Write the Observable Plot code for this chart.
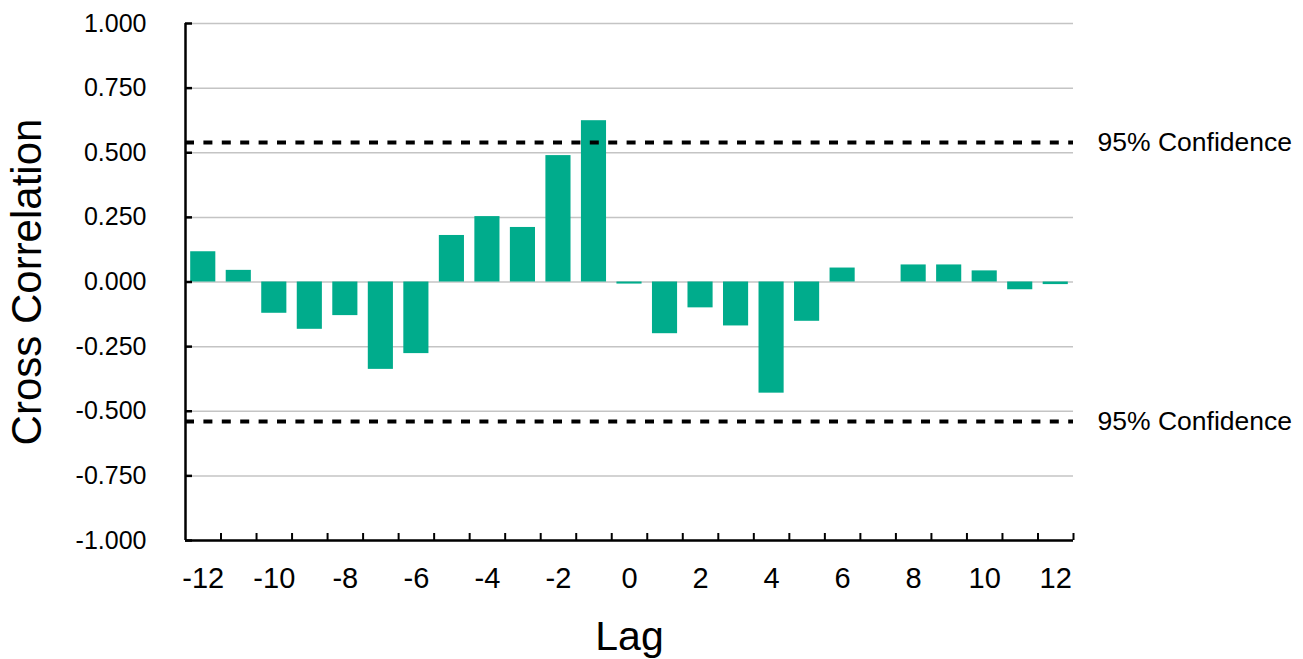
<!DOCTYPE html>
<html><head><meta charset="utf-8">
<script src="https://cdn.jsdelivr.net/npm/d3@7"></script>
<script src="https://cdn.jsdelivr.net/npm/@observablehq/plot@0.6"></script>
<style>body{margin:0;background:#fff;font-family:"Liberation Sans",Arial,Helvetica,sans-serif;}</style>
</head><body><div id="chart"></div>
<script>
const lags = [-12,-11,-10,-9,-8,-7,-6,-5,-4,-3,-2,-1,0,1,2,3,4,5,6,7,8,9,10,11,12];
const correlations = [0.117,0.045,-0.121,-0.183,-0.130,-0.338,-0.277,0.180,0.253,0.211,0.489,0.624,-0.008,-0.200,-0.100,-0.170,-0.430,-0.152,0.054,0,0.066,0.066,0.043,-0.030,-0.010];
const yTicks = [-1,-0.75,-0.5,-0.25,0,0.25,0.5,0.75,1];
const xTickLabels = [-12,-10,-8,-6,-4,-2,0,2,4,6,8,10,12];
const xTickMarks = [-11.5,-10.5,-9.5,-8.5,-7.5,-6.5,-5.5,-4.5,-3.5,-2.5,-1.5,-0.5,0.5,1.5,2.5,3.5,4.5,5.5,6.5,7.5,8.5,9.5,10.5,11.5,12.5];
const confidenceLevels = [0.54,-0.54];
const confidenceLabels = ["95% Confidence","95% Confidence"];
const xLabel = "Lag";
const yLabel = "Cross Correlation";

const data = lags.map((lag,i)=>({lag, value: correlations[i]}));
const conf = confidenceLevels.map((v,i)=>({v, label: confidenceLabels[i]}));

const chart = Plot.plot({
  width: 1303,
  height: 659,
  marginLeft: 185,
  marginRight: 230,
  marginTop: 23,
  marginBottom: 119,
  style: {fontFamily: '"Liberation Sans", Arial, Helvetica, sans-serif', background: "#fff", color: "#000", overflow: "visible"},
  x: {type: "linear", domain: [-12.5, 12.5]},
  y: {type: "linear", domain: [-1, 1]},
  marks: [
    Plot.ruleY(yTicks, {stroke: "#c4c4c4", strokeWidth: 1.5}),
    Plot.rectY(data, {x1: d => d.lag - 0.5, x2: d => d.lag + 0.5, y1: 0, y2: "value", insetLeft: 5.2, insetRight: 5.2, fill: "#00ac8c"}),
    Plot.ruleY(conf, {y: "v", stroke: "#000", strokeWidth: 4, strokeDasharray: "9,9.4"}),
    Plot.text(conf, {y: "v", frameAnchor: "right", dx: 24, textAnchor: "start", text: "label", fontSize: 26.5, fill: "#000"}),
    Plot.axisY({ticks: yTicks, tickSize: 0, tickPadding: 39, tickFormat: d => d.toFixed(3), fontSize: 25, label: null}),
    Plot.axisY({ticks: yTicks, tickSize: -7, strokeWidth: 2.5, tickFormat: () => "", label: null}),
    Plot.axisX({ticks: xTickLabels, tickSize: 0, tickPadding: 27, tickFormat: d => String(d), fontSize: 29, label: null}),
    Plot.axisX({ticks: xTickMarks, tickSize: -7, strokeWidth: 2, tickFormat: () => "", label: null}),
    Plot.ruleX([-12.5], {stroke: "#000", strokeWidth: 2.5}),
    Plot.ruleY([-1], {stroke: "#000", strokeWidth: 2.5}),
    Plot.text([yLabel], {frameAnchor: "left", dx: -145, rotate: -90, textAnchor: "middle", lineAnchor: "bottom", fontSize: 42, fill: "#000"}),
    Plot.text([xLabel], {frameAnchor: "bottom", dy: 109, textAnchor: "middle", lineAnchor: "bottom", fontSize: 41, fill: "#000"})
  ]
});
document.getElementById("chart").appendChild(chart);
</script>
</body></html>
